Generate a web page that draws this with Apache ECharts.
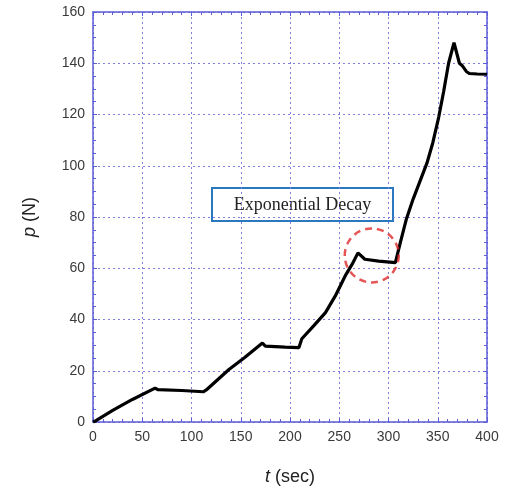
<!DOCTYPE html>
<html>
<head>
<meta charset="utf-8">
<script src="https://cdn.jsdelivr.net/npm/echarts@6/dist/echarts.min.js"></script>
<style>
html, body { margin: 0; padding: 0; background: #fff; }
#chart { width: 508px; height: 495px; }
</style>
</head>
<body>
<div id="chart"></div>
<script>
// force vs. time
var timeSec = [0, 3, 20, 40, 63, 66, 90, 112, 115, 138, 154, 172, 175, 195, 209, 212, 224, 236, 246, 256, 263, 269, 276, 290, 307, 312, 318, 325, 332, 339, 345, 351, 356, 361, 366.5, 372, 375, 379, 382, 390, 400];
var forceN = [0, 0.5, 4.5, 8.8, 13.2, 12.6, 12.3, 11.8, 12.5, 20.5, 25.2, 30.8, 29.6, 29.2, 29.0, 32.5, 37.5, 42.7, 49.2, 57, 61.5, 66, 63.5, 62.8, 62.2, 70, 79, 87, 94, 101, 109, 119, 129, 140, 148, 140, 139, 136.8, 136, 135.8, 135.7];
var decayMark = [283, 65];
var noteText = 'Exponential Decay';

var chartDom = document.getElementById('chart');
var myChart = echarts.init(chartDom);

var axisBlue = '#5c5cd6';
var gridBlue = '#8080dc';

var lineData = [];
for (var i = 0; i < timeSec.length; i++) {
    lineData.push([timeSec[i], forceN[i]]);
}

function sideAxis(opt, main) {
    return Object.assign({
        type: 'value',
        axisLine: { show: true, onZero: false, lineStyle: { color: axisBlue, width: 1.5 } },
        axisTick: { show: true, inside: true, length: 4, lineStyle: { color: axisBlue } },
        splitLine: {
            show: main,
            lineStyle: { color: gridBlue, type: [2, 3], width: 1 }
        },
        axisLabel: {
            show: main,
            color: '#3a3a3a',
            fontSize: 14,
            fontFamily: 'Liberation Sans'
        }
    }, opt);
}

var option = {
    animation: false,
    backgroundColor: '#fff',
    grid: { left: 93, right: 21, top: 12, bottom: 73 },
    xAxis: [
        sideAxis({
            position: 'bottom', min: 0, max: 400, interval: 50,
            minorTick: { show: true, splitNumber: 5, length: 3, lineStyle: { color: axisBlue } },
            name: '{i|t} (sec)',
            nameLocation: 'middle',
            nameGap: 46,
            nameTextStyle: {
                fontSize: 18, color: '#222', fontFamily: 'Liberation Sans',
                rich: { i: { fontStyle: 'italic', fontSize: 18, color: '#222', fontFamily: 'Liberation Sans' } }
            }
        }, true),
        sideAxis({
            position: 'top', min: 0, max: 400, interval: 50,
            minorTick: { show: true, splitNumber: 5, length: 3, lineStyle: { color: axisBlue } }
        }, false)
    ],
    yAxis: [
        sideAxis({
            position: 'left', min: 0, max: 160, interval: 20,
            minorTick: { show: true, splitNumber: 4, length: 3, lineStyle: { color: axisBlue } },
            name: '{i|p} (N)',
            nameLocation: 'middle',
            nameRotate: 90,
            nameGap: 54,
            nameTextStyle: {
                fontSize: 18, color: '#222', fontFamily: 'Liberation Sans',
                rich: { i: { fontStyle: 'italic', fontSize: 18, color: '#222', fontFamily: 'Liberation Sans' } }
            }
        }, true),
        sideAxis({
            position: 'right', min: 0, max: 160, interval: 20,
            minorTick: { show: true, splitNumber: 4, length: 3, lineStyle: { color: axisBlue } }
        }, false)
    ],
    series: [
        {
            name: 'force',
            type: 'line',
            data: lineData,
            showSymbol: false,
            symbol: 'none',
            lineStyle: { color: '#000', width: 3.2 },
            z: 3
        },
        {
            name: 'decay',
            type: 'scatter',
            data: [decayMark],
            symbol: 'circle',
            symbolSize: 54,
            silent: true,
            itemStyle: {
                color: 'rgba(0,0,0,0)',
                borderColor: '#e02a2a',
                borderWidth: 2.5,
                borderType: [7, 5]
            },
            z: 4
        }
    ],
    graphic: [
        {
            type: 'group',
            left: 211,
            top: 187,
            children: [
                {
                    type: 'rect',
                    shape: { x: 0, y: 0, width: 181, height: 33 },
                    style: { fill: '#fff', stroke: '#2a78c0', lineWidth: 2 }
                },
                {
                    type: 'text',
                    x: 90.5,
                    y: 17,
                    style: {
                        text: noteText,
                        fill: '#222',
                        font: '18px "Liberation Serif"',
                        align: 'center',
                        verticalAlign: 'middle'
                    }
                }
            ]
        }
    ]
};

if (option && typeof option === 'object') {
    myChart.setOption(option);
}
</script>
</body>
</html>
